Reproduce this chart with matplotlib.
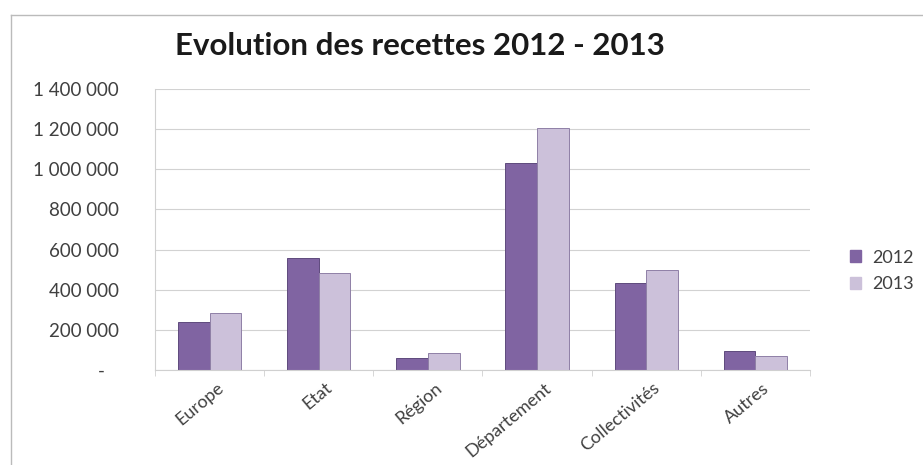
import matplotlib.pyplot as plt
import numpy as np
from matplotlib.ticker import FuncFormatter
from matplotlib.lines import Line2D

# --- Données ---
categories = ['Europe', 'Etat', 'Région', 'Département', 'Collectivités', 'Autres']
recettes_2012 = [239000, 557000, 60000, 1030000, 433000, 95000]
recettes_2013 = [283000, 482000, 85000, 1204000, 497000, 70000]
years = ['2012', '2013']

COL_2012 = '#8064A2'
COL_2013 = '#CCC1DA'
FONT = ['Lato', 'DejaVu Sans']

plt.rcParams['font.family'] = FONT

fig = plt.figure(figsize=(9.23, 4.65), dpi=100)
W, H = 923, 465
ax = fig.add_axes([155 / W, 1 - 370 / H, (810 - 155) / W, (370 - 89) / H])

x = np.arange(len(categories))
w = 0.29
ax.bar(x - w / 2, recettes_2012, w, color=COL_2012, edgecolor='#5f4a7d', linewidth=0.7, label=years[0])
ax.bar(x + w / 2, recettes_2013, w, color=COL_2013, edgecolor='#8f80a6', linewidth=0.7, label=years[1])

ax.set_xlim(-0.5, len(categories) - 0.5)
ax.set_ylim(0, 1400000)
ax.set_yticks(np.arange(0, 1400001, 200000))


def fmt(v, pos):
    if v == 0:
        return '-   '
    return f'{int(v):,}'.replace(',', ' ')


ax.yaxis.set_major_formatter(FuncFormatter(fmt))
ax.grid(axis='y', color='#d2d2d2', linewidth=0.8)
ax.set_axisbelow(True)
for s in ['top', 'right']:
    ax.spines[s].set_visible(False)
ax.spines['left'].set_color('#d0d0d0')
ax.spines['bottom'].set_color('#d0d0d0')
ax.tick_params(axis='y', length=0, pad=26, labelsize=13.5, colors='#404040')
ax.tick_params(axis='x', length=0, pad=7, labelsize=13, colors='#404040')
ax.set_xticks(x + 0.06)
ax.set_xticklabels(categories, rotation=40, ha='right', rotation_mode='anchor')
ax.set_xticks(np.arange(len(categories) + 1) - 0.5, minor=True)
ax.tick_params(axis='x', which='minor', length=4, color='#d0d0d0')

fig.text(420 / W, 1 - 46 / H, 'Evolution des recettes 2012 - 2013',
         ha='center', va='center', fontsize=22.5, fontweight='bold', color='#1a1a1a')

handles = [plt.Rectangle((0, 0), 1, 1, color=COL_2012), plt.Rectangle((0, 0), 1, 1, color=COL_2013)]
fig.legend(handles, years, loc='center left', bbox_to_anchor=(834 / W, 1 - 271 / H),
           frameon=False, fontsize=13, handlelength=0.6, handleheight=0.6,
           handletextpad=0.6, labelspacing=0.6, labelcolor='#404040')

# cadre du graphique
fig.add_artist(Line2D([11 / W, 11 / W], [0, 1 - 15 / H], color='#bbbbbb', linewidth=1))
fig.add_artist(Line2D([11 / W, 1], [1 - 15 / H, 1 - 15 / H], color='#bbbbbb', linewidth=1))

fig.savefig('out.png', dpi=100)
